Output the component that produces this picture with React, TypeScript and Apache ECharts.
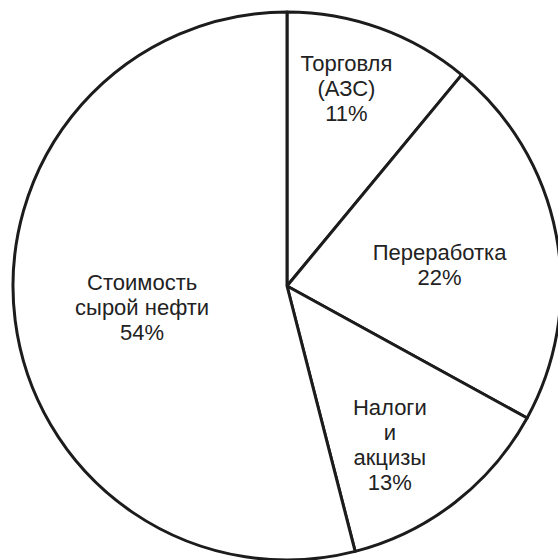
import React, { useEffect, useRef } from "react";
import * as echarts from "echarts";

const categories = ["Торговля\n(АЗС)", "Переработка", "Налоги\nи\nакцизы", "Стоимость\nсырой нефти"];
const shares = [11, 22, 13, 54];
const labelOffsets: [number, number][] = [[12, -66], [15, 5], [17, 48], [-6, 4]];

export default function App() {
  const ref = useRef<HTMLDivElement>(null);
  useEffect(() => {
    document.body.style.margin = "0";
    const chart = echarts.init(ref.current!, null, { renderer: "svg" });
    chart.setOption({
      animation: false,
      backgroundColor: "#ffffff",
      series: [
        {
          type: "pie",
          center: [287, 286],
          radius: 274,
          startAngle: 90,
          clockwise: true,
          silent: true,
          itemStyle: { color: "#ffffff", borderColor: "#1c1c1c", borderWidth: 3 },
          label: {
            position: "inside",
            formatter: "{b}\n{c}%",
            fontFamily: "Liberation Sans, Arial, sans-serif",
            fontSize: 22,
            lineHeight: 25,
            color: "#222222",
            align: "center",
          },
          labelLine: { show: false },
          data: categories.map((name, i) => ({
            name,
            value: shares[i],
            label: { offset: labelOffsets[i] },
          })),
        },
      ],
    });
    return () => chart.dispose();
  }, []);
  return <div ref={ref} style={{ width: 558, height: 560 }} />;
}
